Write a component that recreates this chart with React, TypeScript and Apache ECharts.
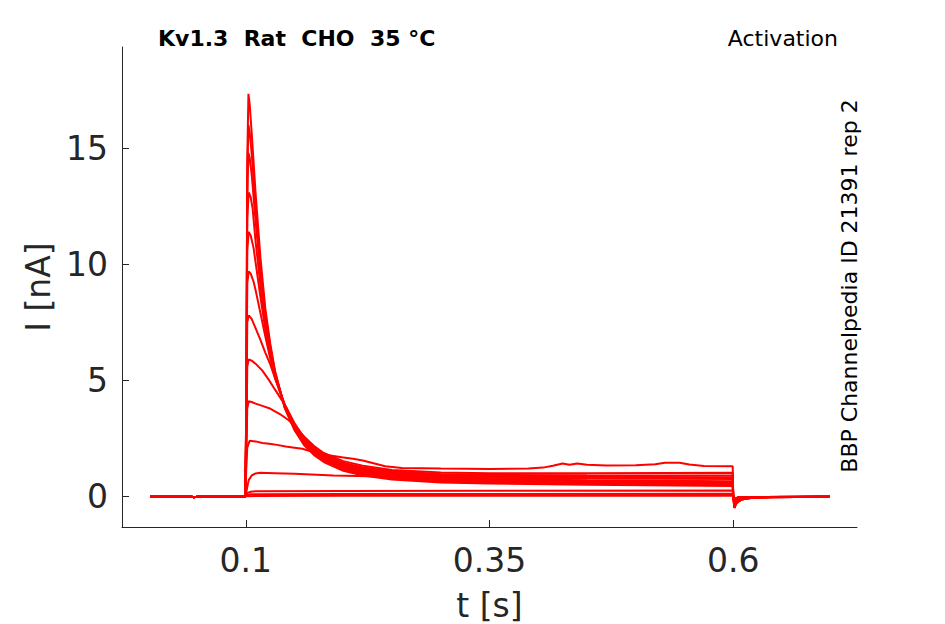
import React, { useEffect, useRef } from "react";
import * as echarts from "echarts";

// Time [s], current [nA] pairs
const preStep: number[][] = [[0.002, 0.0], [0.043, 0.0], [0.047, -0.04], [0.052, 0.0], [0.0995, 0.0]];

const traceA: number[][] = [[0.1005, 4.0], [0.1015, 14.5], [0.1027, 17.35], [0.104, 16.9], [0.106, 15.7], [0.11, 13.1], [0.115, 10.3], [0.12, 8.1], [0.125, 6.6], [0.13, 5.4], [0.14, 3.8], [0.15, 2.85], [0.16, 2.2], [0.17, 1.78], [0.18, 1.48], [0.2, 1.1], [0.22, 0.9], [0.25, 0.73], [0.3, 0.6], [0.35, 0.55], [0.45, 0.5], [0.5995, 0.45]];
const traceB: number[][] = [[0.1005, 3.8], [0.1015, 13.8], [0.1027, 16.0], [0.104, 15.7], [0.106, 14.8], [0.11, 12.5], [0.115, 9.9], [0.12, 7.9], [0.125, 6.5], [0.13, 5.35], [0.14, 3.82], [0.15, 2.9], [0.16, 2.25], [0.17, 1.83], [0.18, 1.53], [0.2, 1.15], [0.22, 0.95], [0.25, 0.78], [0.3, 0.65], [0.35, 0.6], [0.45, 0.55], [0.5995, 0.5]];
const traceC: number[][] = [[0.1005, 3.6], [0.1015, 13.0], [0.1027, 14.8], [0.104, 14.6], [0.106, 13.9], [0.11, 11.9], [0.115, 9.6], [0.12, 7.75], [0.125, 6.4], [0.13, 5.3], [0.14, 3.85], [0.15, 2.93], [0.16, 2.3], [0.17, 1.88], [0.18, 1.58], [0.2, 1.2], [0.22, 1.0], [0.25, 0.83], [0.3, 0.7], [0.35, 0.65], [0.45, 0.6], [0.5995, 0.55]];
const traceD: number[][] = [[0.1005, 3.4], [0.1015, 12.0], [0.103, 13.1], [0.105, 12.9], [0.107, 12.4], [0.11, 11.0], [0.115, 9.1], [0.12, 7.5], [0.125, 6.25], [0.13, 5.25], [0.14, 3.87], [0.15, 2.97], [0.16, 2.33], [0.17, 1.92], [0.18, 1.62], [0.2, 1.25], [0.22, 1.05], [0.25, 0.88], [0.3, 0.75], [0.35, 0.7], [0.45, 0.65], [0.5995, 0.6]];
const traceE: number[][] = [[0.1005, 3.2], [0.1015, 10.6], [0.103, 11.4], [0.105, 11.25], [0.108, 10.7], [0.11, 10.1], [0.115, 8.6], [0.12, 7.2], [0.125, 6.1], [0.13, 5.2], [0.14, 3.9], [0.15, 3.0], [0.16, 2.37], [0.17, 1.96], [0.18, 1.66], [0.2, 1.3], [0.22, 1.1], [0.25, 0.93], [0.3, 0.8], [0.35, 0.75], [0.45, 0.7], [0.5995, 0.65]];
const traceF: number[][] = [[0.1005, 3.0], [0.1015, 9.2], [0.103, 9.7], [0.105, 9.6], [0.108, 9.25], [0.11, 8.9], [0.115, 7.9], [0.12, 6.9], [0.125, 5.95], [0.13, 5.1], [0.14, 3.92], [0.15, 3.05], [0.16, 2.42], [0.17, 2.0], [0.18, 1.7], [0.2, 1.35], [0.22, 1.15], [0.25, 0.98], [0.3, 0.86], [0.35, 0.82], [0.45, 0.78], [0.5995, 0.75]];
const traceG: number[][] = [[0.1005, 2.6], [0.1015, 7.5], [0.103, 7.8], [0.106, 7.65], [0.11, 7.25], [0.115, 6.75], [0.12, 6.2], [0.125, 5.7], [0.13, 5.1], [0.14, 3.96], [0.15, 3.1], [0.16, 2.47], [0.17, 2.05], [0.18, 1.75], [0.2, 1.4], [0.22, 1.2], [0.25, 1.03], [0.3, 0.91], [0.35, 0.88], [0.45, 0.85], [0.5995, 0.82]];
const traceH: number[][] = [[0.1005, 2.2], [0.1015, 5.6], [0.103, 5.9], [0.106, 5.85], [0.11, 5.72], [0.117, 5.42], [0.124, 5.0], [0.13, 4.6], [0.14, 3.95], [0.15, 3.15], [0.16, 2.52], [0.17, 2.1], [0.18, 1.8], [0.2, 1.45], [0.22, 1.25], [0.25, 1.08], [0.3, 0.96], [0.35, 0.93], [0.45, 0.91], [0.5995, 0.9]];
const traceI: number[][] = [[0.1005, 1.8], [0.1015, 3.8], [0.103, 4.1], [0.106, 4.07], [0.11, 4.0], [0.117, 3.9], [0.124, 3.8], [0.135, 3.55], [0.144, 3.28], [0.15, 3.03], [0.16, 2.57], [0.17, 2.17], [0.18, 1.87], [0.2, 1.52], [0.22, 1.32], [0.25, 1.14], [0.3, 1.03], [0.35, 1.0], [0.45, 1.0], [0.5995, 1.02]];
const traceJ: number[][] = [[0.1005, 1.2], [0.1015, 2.1], [0.104, 2.4], [0.11, 2.37], [0.117, 2.3], [0.124, 2.27], [0.132, 2.22], [0.141, 2.15], [0.15, 2.1], [0.158, 2.05], [0.17, 1.9], [0.185, 1.77], [0.2, 1.68], [0.21, 1.62], [0.22, 1.55], [0.232, 1.42], [0.243, 1.3], [0.26, 1.22], [0.3, 1.2], [0.35, 1.18], [0.39, 1.2], [0.405, 1.24], [0.415, 1.32], [0.425, 1.42], [0.432, 1.36], [0.44, 1.42], [0.45, 1.36], [0.47, 1.33], [0.5, 1.34], [0.52, 1.38], [0.53, 1.45], [0.545, 1.45], [0.555, 1.37], [0.57, 1.31], [0.5995, 1.3]];
const traceK: number[][] = [[0.1005, 0.15], [0.1015, 0.4], [0.103, 0.7], [0.106, 0.9], [0.11, 0.99], [0.115, 1.02], [0.13, 1.0], [0.15, 0.97], [0.19, 0.9], [0.25, 0.85], [0.35, 0.8], [0.45, 0.78], [0.5995, 0.78]];
const traceL: number[][] = [[0.1005, 0.05], [0.102, 0.15], [0.105, 0.2], [0.11, 0.22], [0.2, 0.23], [0.35, 0.24], [0.5995, 0.25]];
const traceM: number[][] = [[0.101, 0.04], [0.105, 0.09], [0.2, 0.1], [0.5995, 0.11]];
const traceN: number[][] = [[0.101, 0.01], [0.2, 0.03], [0.5995, 0.03]];

const tailLarge: number[][] = [[0.6, 0.0], [0.6012, -0.5], [0.603, -0.32], [0.606, -0.2], [0.61, -0.12], [0.62, -0.06], [0.64, -0.03], [0.699, -0.02]];
const tailMedium: number[][] = [[0.6, 0.0], [0.6012, -0.3], [0.604, -0.15], [0.61, -0.07], [0.63, -0.03], [0.699, -0.02]];
const tailSmall: number[][] = [[0.6, 0.0], [0.6012, -0.1], [0.606, -0.04], [0.699, -0.02]];

const traces: { body: number[][]; tail: number[][] }[] = [
  { body: traceA, tail: tailLarge },
  { body: traceB, tail: tailLarge },
  { body: traceC, tail: tailLarge },
  { body: traceD, tail: tailMedium },
  { body: traceE, tail: tailMedium },
  { body: traceF, tail: tailMedium },
  { body: traceG, tail: tailMedium },
  { body: traceH, tail: tailMedium },
  { body: traceI, tail: tailMedium },
  { body: traceJ, tail: tailSmall },
  { body: traceK, tail: tailSmall },
  { body: traceL, tail: tailSmall },
  { body: traceM, tail: tailSmall },
  { body: traceN, tail: tailSmall },
];

const xTicks = [0.1, 0.35, 0.6];
const yTicks = [0, 5, 10, 15];

const TEXT = "#262626";
const FONT = "DejaVu Sans";

export default function App() {
  const ref = useRef<HTMLDivElement>(null);
  useEffect(() => {
    if (!ref.current) return;
    const chart = echarts.init(ref.current, undefined, { renderer: "svg" });
    const series = traces.map((tr, i) => ({
      type: "line",
      name: "trace" + i,
      data: [...preStep, ...tr.body, ...tr.tail],
      showSymbol: false,
      symbol: "none",
      silent: true,
      lineStyle: { color: "#ff0000", width: 2 },
    }));
    chart.setOption({
      animation: false,
      backgroundColor: "#ffffff",
      title: [
        {
          text: "Kv1.3  Rat  CHO  35 °C",
          left: 158,
          top: 27,
          padding: 0,
          textStyle: { fontFamily: FONT, fontSize: 22, fontWeight: "bold", color: "#000000" },
        },
        {
          text: "Activation",
          right: 107,
          top: 27,
          padding: 0,
          textStyle: { fontFamily: FONT, fontSize: 22, fontWeight: "normal", color: "#000000" },
        },
      ],
      grid: { left: 122, right: 88, top: 47, bottom: 97, outerBoundsMode: "none" },
      xAxis: {
        type: "value",
        min: -0.027,
        max: 0.727,
        name: "t [s]",
        nameLocation: "middle",
        nameGap: 62,
        nameTextStyle: { fontFamily: FONT, fontSize: 33, color: TEXT },
        axisLine: { show: true, onZero: false, lineStyle: { color: TEXT, width: 1 } },
        axisTick: { show: true, inside: true, length: 7, customValues: xTicks, lineStyle: { color: TEXT } },
        axisLabel: {
          customValues: xTicks,
          fontFamily: FONT,
          fontSize: 33,
          color: TEXT,
          margin: 17,
          formatter: (v: number) => String(v),
        },
        splitLine: { show: false },
      },
      yAxis: {
        type: "value",
        min: -1.32,
        max: 19.37,
        name: "I [nA]",
        nameLocation: "middle",
        nameGap: 66,
        nameTextStyle: { fontFamily: FONT, fontSize: 33, color: TEXT },
        axisLine: { show: true, onZero: false, lineStyle: { color: TEXT, width: 1 } },
        axisTick: { show: true, inside: true, length: 7, customValues: yTicks, lineStyle: { color: TEXT } },
        axisLabel: {
          customValues: yTicks,
          fontFamily: FONT,
          fontSize: 33,
          color: TEXT,
          margin: 14,
          formatter: (v: number) => String(v),
        },
        splitLine: { show: false },
      },
      graphic: [
        {
          type: "text",
          x: 849,
          y: 286,
          rotation: Math.PI / 2,
          style: {
            text: "BBP Channelpedia ID 21391 rep 2",
            fontFamily: FONT,
            fontSize: 22,
            fill: "#000000",
            align: "center",
            verticalAlign: "middle",
          },
        },
      ],
      series,
    });
    return () => chart.dispose();
  }, []);
  return (
    <div
      ref={ref}
      style={{ position: "fixed", left: 0, top: 0, width: 945, height: 624, background: "#fff" }}
    />
  );
}
